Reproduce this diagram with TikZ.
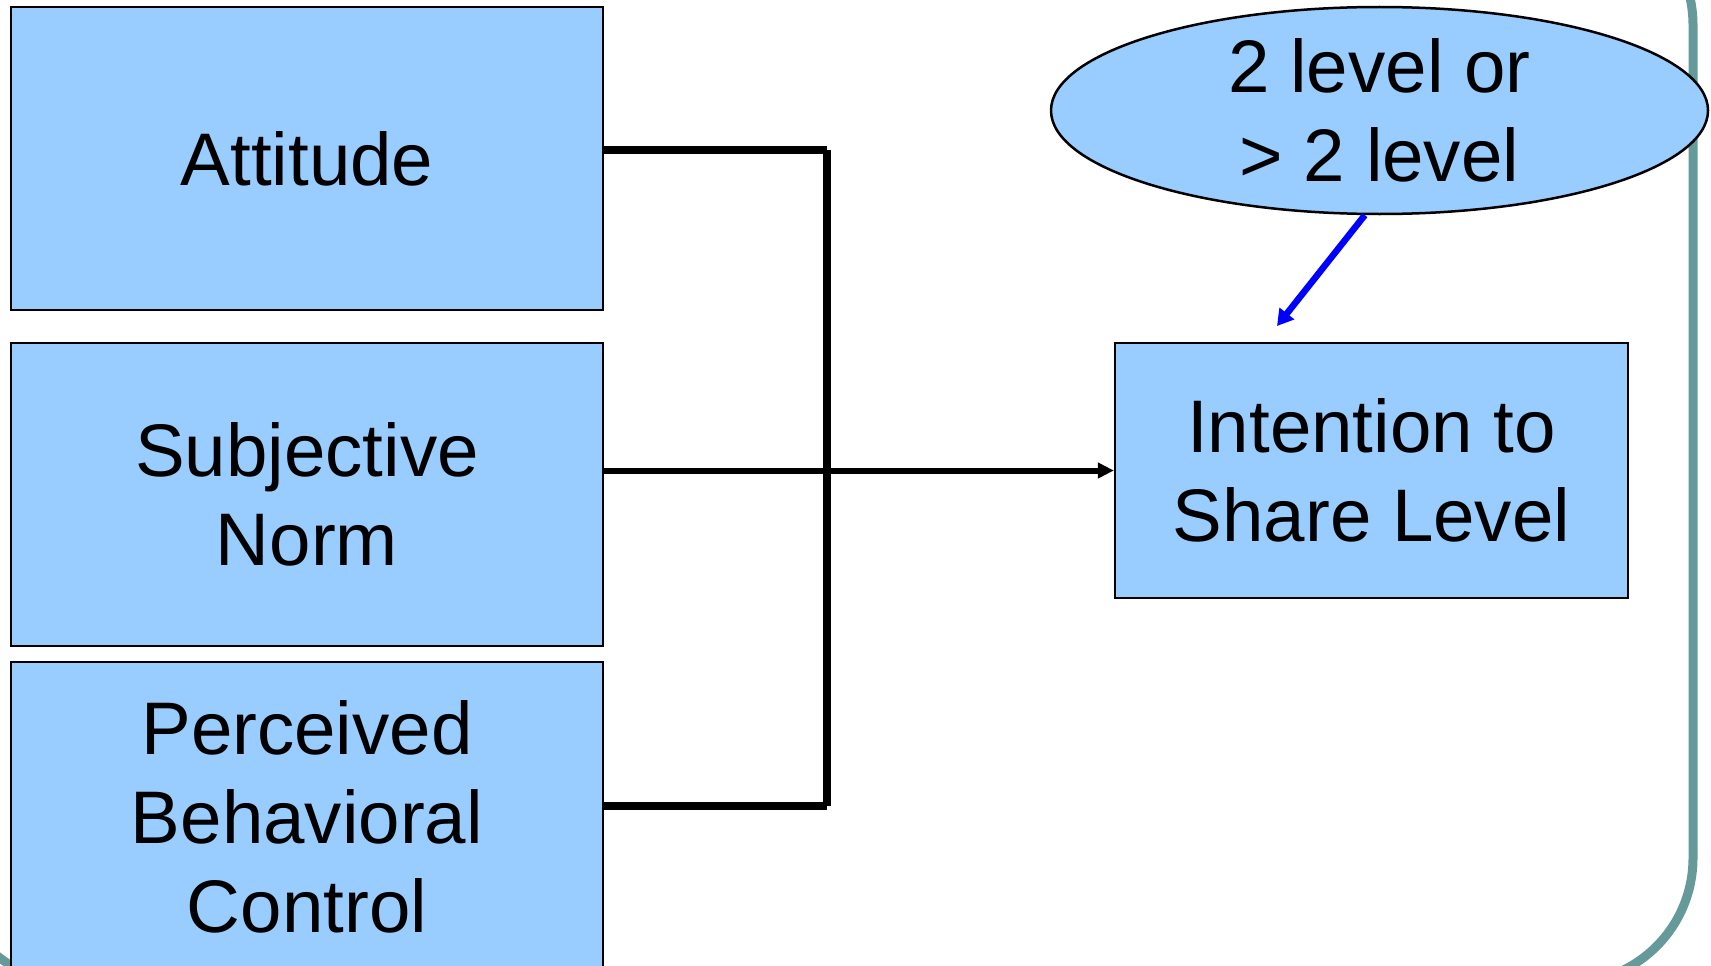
\documentclass[tikz,border=0pt]{standalone}
\usepackage{fontspec}
\setmainfont{Liberation Sans}
\usetikzlibrary{arrows.meta,shapes.geometric}
\definecolor{boxfill}{HTML}{99CCFF}
\definecolor{frameteal}{HTML}{669999}
\tikzset{
  lbl/.style={font=\fontsize{74.5}{89}\selectfont, align=center, text=black},
  blockbox/.style={lbl, draw=black, line width=2.2pt, fill=boxfill, rectangle, inner sep=0pt},
  bubble/.style={lbl, draw=black, line width=2.5pt, fill=boxfill, ellipse, inner sep=0pt},
  conn/.style={draw=black, line width=7.5pt},
  pointer/.style={draw=blue, line width=6.5pt, -{Triangle[length=16pt,width=18pt]}},
}
\begin{document}
\begin{tikzpicture}[x=1pt,y=-1pt]
\useasboundingbox (0,0) rectangle (1711,966);
\clip (0,0) rectangle (1711,966);
% slide frame
\draw[frameteal, line width=9pt, rounded corners=125pt] (-50,-100) rectangle (1693,983);
% boxes
\node[blockbox, minimum width=592pt, minimum height=303pt] (att) at (307,158.5) {Attitude};
\node[blockbox, minimum width=592pt, minimum height=303pt] (sub) at (307,494.5) {Subjective\\Norm};
\node[blockbox, minimum width=592pt, minimum height=310pt] (pbc) at (307,817) {Perceived\\Behavioral\\Control};
\node[blockbox, minimum width=513pt, minimum height=255pt] (int) at (1371.5,470.5) {Intention to\\Share Level};
\node[bubble, minimum width=657pt, minimum height=207pt] (ell) at (1379.5,110.5) {2 level or\\{>} 2 level};
% connectors
\coordinate (bt) at (827,150);
\coordinate (bb) at (827,806);
\draw[conn] (att.east |- bt) -- (bt);
\draw[conn] (bt) -- (bb);
\draw[conn] (pbc.east |- bb) -- (bb);
\draw[conn, line width=6pt, -{Triangle[length=16pt,width=15pt]}] (sub.east |- int.west) -- (int.west);
\coordinate (ptip) at (1277,326);
\draw[pointer] (ell.-98) -- (ptip);
\end{tikzpicture}
\end{document}
